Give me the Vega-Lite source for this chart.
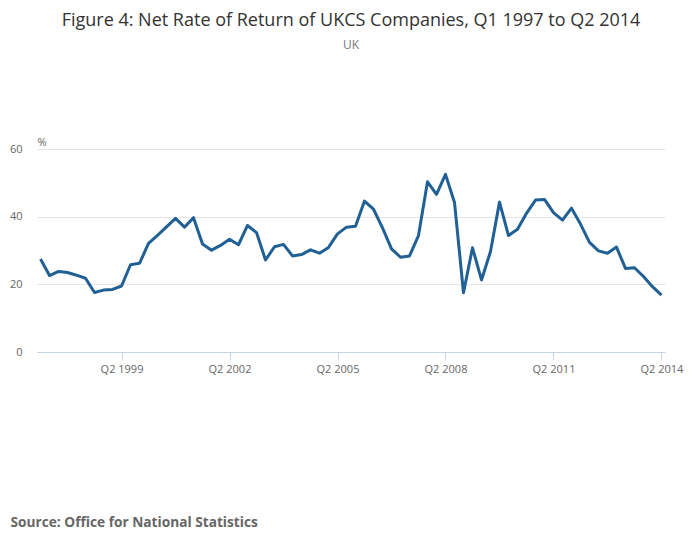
{
  "$schema": "https://vega.github.io/schema/vega-lite/v6.json",
  "autosize": "none",
  "width": 628,
  "height": 203,
  "padding": {"left": 37, "top": 149, "right": 35, "bottom": 197},
  "background": "white",
  "title": {
    "text": "Figure 4: Net Rate of Return of UKCS Companies, Q1 1997 to Q2 2014",
    "subtitle": "UK",
    "anchor": "middle",
    "font": "Open Sans",
    "fontSize": 18,
    "fontWeight": "normal",
    "color": "#333333",
    "subtitleFont": "Open Sans",
    "subtitleFontSize": 12,
    "subtitleColor": "#777777",
    "subtitlePadding": 10,
    "offset": 85
  },
  "data": {
    "values": [
      {"quarter": "Q1 1997", "rate": 27.5},
      {"quarter": "Q2 1997", "rate": 22.6},
      {"quarter": "Q3 1997", "rate": 23.8},
      {"quarter": "Q4 1997", "rate": 23.5},
      {"quarter": "Q1 1998", "rate": 22.7},
      {"quarter": "Q2 1998", "rate": 21.8},
      {"quarter": "Q3 1998", "rate": 17.6},
      {"quarter": "Q4 1998", "rate": 18.3},
      {"quarter": "Q1 1999", "rate": 18.5},
      {"quarter": "Q2 1999", "rate": 19.5},
      {"quarter": "Q3 1999", "rate": 25.8},
      {"quarter": "Q4 1999", "rate": 26.2},
      {"quarter": "Q1 2000", "rate": 32.1},
      {"quarter": "Q2 2000", "rate": 34.5},
      {"quarter": "Q3 2000", "rate": 37.0},
      {"quarter": "Q4 2000", "rate": 39.5},
      {"quarter": "Q1 2001", "rate": 36.9},
      {"quarter": "Q2 2001", "rate": 39.7},
      {"quarter": "Q3 2001", "rate": 31.9},
      {"quarter": "Q4 2001", "rate": 30.1},
      {"quarter": "Q1 2002", "rate": 31.5},
      {"quarter": "Q2 2002", "rate": 33.3},
      {"quarter": "Q3 2002", "rate": 31.7},
      {"quarter": "Q4 2002", "rate": 37.4},
      {"quarter": "Q1 2003", "rate": 35.3},
      {"quarter": "Q2 2003", "rate": 27.2},
      {"quarter": "Q3 2003", "rate": 31.1},
      {"quarter": "Q4 2003", "rate": 31.8},
      {"quarter": "Q1 2004", "rate": 28.4},
      {"quarter": "Q2 2004", "rate": 28.8},
      {"quarter": "Q3 2004", "rate": 30.2},
      {"quarter": "Q4 2004", "rate": 29.2},
      {"quarter": "Q1 2005", "rate": 30.9},
      {"quarter": "Q2 2005", "rate": 34.9},
      {"quarter": "Q3 2005", "rate": 36.9},
      {"quarter": "Q4 2005", "rate": 37.2},
      {"quarter": "Q1 2006", "rate": 44.6},
      {"quarter": "Q2 2006", "rate": 42.2},
      {"quarter": "Q3 2006", "rate": 36.7},
      {"quarter": "Q4 2006", "rate": 30.5},
      {"quarter": "Q1 2007", "rate": 28.0},
      {"quarter": "Q2 2007", "rate": 28.4},
      {"quarter": "Q3 2007", "rate": 34.4},
      {"quarter": "Q4 2007", "rate": 50.3},
      {"quarter": "Q1 2008", "rate": 46.6},
      {"quarter": "Q2 2008", "rate": 52.5},
      {"quarter": "Q3 2008", "rate": 44.2},
      {"quarter": "Q4 2008", "rate": 17.5},
      {"quarter": "Q1 2009", "rate": 30.8},
      {"quarter": "Q2 2009", "rate": 21.3},
      {"quarter": "Q3 2009", "rate": 29.7},
      {"quarter": "Q4 2009", "rate": 44.3},
      {"quarter": "Q1 2010", "rate": 34.4},
      {"quarter": "Q2 2010", "rate": 36.3},
      {"quarter": "Q3 2010", "rate": 41.0},
      {"quarter": "Q4 2010", "rate": 44.9},
      {"quarter": "Q1 2011", "rate": 45.1},
      {"quarter": "Q2 2011", "rate": 41.2},
      {"quarter": "Q3 2011", "rate": 39.0},
      {"quarter": "Q4 2011", "rate": 42.5},
      {"quarter": "Q1 2012", "rate": 37.8},
      {"quarter": "Q2 2012", "rate": 32.4},
      {"quarter": "Q3 2012", "rate": 29.9},
      {"quarter": "Q4 2012", "rate": 29.2},
      {"quarter": "Q1 2013", "rate": 31.0},
      {"quarter": "Q2 2013", "rate": 24.7},
      {"quarter": "Q3 2013", "rate": 24.9},
      {"quarter": "Q4 2013", "rate": 22.3},
      {"quarter": "Q1 2014", "rate": 19.3},
      {"quarter": "Q2 2014", "rate": 16.8}
    ]
  },
  "mark": {"type": "line", "color": "#206095", "strokeWidth": 3, "strokeJoin": "round"},
  "encoding": {
    "x": {
      "field": "quarter",
      "type": "ordinal",
      "sort": null,
      "scale": {"type": "point", "padding": 0.39},
      "axis": {
        "values": ["Q2 1999", "Q2 2002", "Q2 2005", "Q2 2008", "Q2 2011", "Q2 2014"],
        "labelAngle": 0,
        "labelFont": "Open Sans",
        "labelFontSize": 11,
        "labelColor": "#666666",
        "labelPadding": 3,
        "tickColor": "#c8d4e6",
        "tickSize": 8,
        "domainColor": "#c8d4e6",
        "grid": false,
        "title": "Source: Office for National Statistics",
        "titleFont": "Open Sans",
        "titleFontSize": 13.7,
        "titleFontWeight": "bold",
        "titleColor": "#666666",
        "titleAnchor": "start",
        "titleAlign": "left",
        "titleBaseline": "middle",
        "titleX": -27,
        "titleY": 170
      }
    },
    "y": {
      "field": "rate",
      "type": "quantitative",
      "scale": {"domain": [0, 60], "nice": false},
      "axis": {
        "values": [0, 20, 40, 60],
        "domain": false,
        "ticks": false,
        "grid": true,
        "gridColor": "#e4e4e4",
        "labelFont": "Open Sans",
        "labelFontSize": 11,
        "labelColor": "#666666",
        "labelPadding": 15,
        "title": "%",
        "titleFont": "Open Sans",
        "titleFontSize": 11,
        "titleFontWeight": "normal",
        "titleColor": "#666666",
        "titleAngle": 0,
        "titleAlign": "left",
        "titleBaseline": "bottom",
        "titleX": 0,
        "titleY": -2
      }
    }
  },
  "config": {"view": {"stroke": null}}
}
